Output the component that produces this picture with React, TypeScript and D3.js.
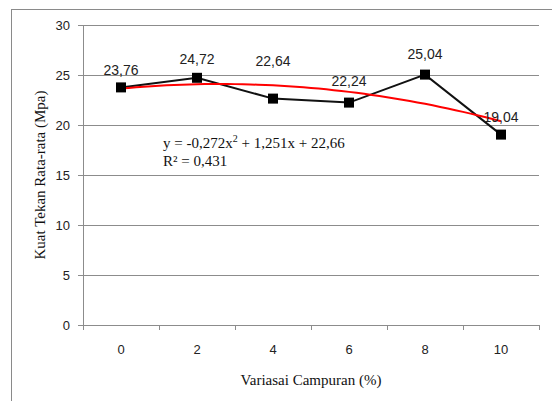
import * as d3 from 'd3';
import { useEffect, useRef } from 'react';

// chart data
const categories = ['0', '2', '4', '6', '8', '10'];
const values = [23.76, 24.72, 22.64, 22.24, 25.04, 19.04];
const yTicks = [0, 5, 10, 15, 20, 25, 30];
// polynomial trend: c0 + c1*x + c2*x^2 (x = 1..6)
const trendCoef = [22.66, 1.251, -0.272];
const equationText = ['y = -0,272x', '2', ' + 1,251x + 22,66'];
const r2Text = 'R² = 0,431';

// label nudges (px above the marker)
const labelLift = [17, 19, 38, 22, 21, 18];

const SANS = "'Liberation Sans', Arial, sans-serif";
const SERIF = "'Liberation Serif', 'Times New Roman', 'DejaVu Serif', serif";

export default function App() {
  const ref = useRef<SVGSVGElement>(null);

  useEffect(() => {
    const width = 552;
    const height = 401;
    const svg = d3.select(ref.current);
    svg.selectAll('*').remove();
    svg.attr('width', width).attr('height', height);

    const margin = { top: 25, left: 83, right: 13, bottom: 76 };
    const plotW = width - margin.left - margin.right;
    const plotH = height - margin.top - margin.bottom;

    svg.append('rect').attr('width', width).attr('height', height).attr('fill', '#fff');
    // outer chart frame (cut off at right / bottom)
    svg.append('rect')
      .attr('x', 11.5).attr('y', 9.5)
      .attr('width', 700).attr('height', 600)
      .attr('fill', 'none').attr('stroke', '#8a8a8a');

    const g = svg.append('g').attr('transform', `translate(${margin.left},${margin.top})`);

    const x = d3.scaleBand().domain(categories).range([0, plotW]).padding(0);
    const y = d3.scaleLinear().domain([0, 30]).range([plotH, 0]);
    const cx = (i: number) => (x(categories[i]) as number) + x.bandwidth() / 2;

    // grid + y ticks
    g.selectAll('.grid')
      .data(yTicks)
      .enter()
      .append('line')
      .attr('x1', -5).attr('x2', plotW)
      .attr('y1', (d) => Math.round(y(d)) + 0.5)
      .attr('y2', (d) => Math.round(y(d)) + 0.5)
      .attr('stroke', '#8c8c8c');
    g.selectAll('.ylab')
      .data(yTicks)
      .enter()
      .append('text')
      .attr('x', -13)
      .attr('y', (d) => y(d))
      .attr('dy', '0.35em')
      .attr('text-anchor', 'end')
      .attr('font-family', SANS)
      .attr('font-size', 13)
      .attr('fill', '#222')
      .text((d) => d);

    // y axis line
    g.append('line')
      .attr('x1', 0.5).attr('x2', 0.5).attr('y1', 0).attr('y2', plotH)
      .attr('stroke', '#8c8c8c');

    // x ticks at category boundaries
    const bounds = categories.map((c) => x(c) as number).concat([plotW]);
    g.selectAll('.xtick')
      .data(bounds)
      .enter()
      .append('line')
      .attr('x1', (d) => Math.round(d) + 0.5).attr('x2', (d) => Math.round(d) + 0.5)
      .attr('y1', plotH).attr('y2', plotH + 5)
      .attr('stroke', '#8c8c8c');
    g.selectAll('.xlab')
      .data(categories)
      .enter()
      .append('text')
      .attr('x', (d, i) => cx(i))
      .attr('y', plotH + 24)
      .attr('dy', '0.35em')
      .attr('text-anchor', 'middle')
      .attr('font-family', SANS)
      .attr('font-size', 13)
      .attr('fill', '#222')
      .text((d) => d);

    // data line
    const line = d3.line<number>().x((d, i) => cx(i)).y((d) => y(d));
    g.append('path')
      .datum(values)
      .attr('fill', 'none')
      .attr('stroke', '#111')
      .attr('stroke-width', 2)
      .attr('d', line);

    // trend line (x = 1..6 in category index space)
    const xi = d3.scaleLinear().domain([1, categories.length]).range([cx(0), cx(categories.length - 1)]);
    const trendPts = d3.range(1, categories.length + 0.001, 0.1).map((t) => [
      xi(t),
      y(trendCoef[0] + trendCoef[1] * t + trendCoef[2] * t * t)
    ] as [number, number]);
    g.append('path')
      .attr('d', d3.line()(trendPts))
      .attr('fill', 'none')
      .attr('stroke', '#ff0000')
      .attr('stroke-width', 2);

    // markers
    g.selectAll('.mk')
      .data(values)
      .enter()
      .append('rect')
      .attr('x', (d, i) => cx(i) - 5)
      .attr('y', (d) => y(d) - 5)
      .attr('width', 10).attr('height', 10)
      .attr('fill', '#000');

    // data labels
    g.selectAll('.dl')
      .data(values)
      .enter()
      .append('text')
      .attr('x', (d, i) => cx(i))
      .attr('y', (d, i) => y(d) - labelLift[i])
      .attr('dy', '0.35em')
      .attr('text-anchor', 'middle')
      .attr('font-family', SANS)
      .attr('font-size', 14)
      .attr('fill', '#222')
      .text((d) => d.toFixed(2).replace('.', ','));

    // equation
    const eq = svg.append('text')
      .attr('x', 163).attr('y', 148)
      .attr('font-family', SERIF)
      .attr('font-size', 15)
      .attr('fill', '#111');
    eq.append('tspan').text(equationText[0]);
    eq.append('tspan').attr('font-size', 10).attr('dy', -6).text(equationText[1]);
    eq.append('tspan').attr('dy', 6).text(equationText[2]);
    svg.append('text')
      .attr('x', 163).attr('y', 166)
      .attr('font-family', SERIF)
      .attr('font-size', 15)
      .attr('fill', '#111')
      .text(r2Text);

    // axis titles
    svg.append('text')
      .attr('x', margin.left + plotW / 2)
      .attr('y', 385)
      .attr('text-anchor', 'middle')
      .attr('font-family', SERIF)
      .attr('font-size', 15)
      .attr('fill', '#111')
      .text('Variasai Campuran (%)');
    svg.append('text')
      .attr('transform', `translate(45,${margin.top + plotH / 2}) rotate(-90)`)
      .attr('text-anchor', 'middle')
      .attr('font-family', SERIF)
      .attr('font-size', 15)
      .attr('fill', '#111')
      .text('Kuat Tekan Rata-rata (Mpa)');
  }, []);

  return (
    <svg ref={ref} style={{ position: 'absolute', left: 0, top: 0, display: 'block' }}></svg>
  );
}
